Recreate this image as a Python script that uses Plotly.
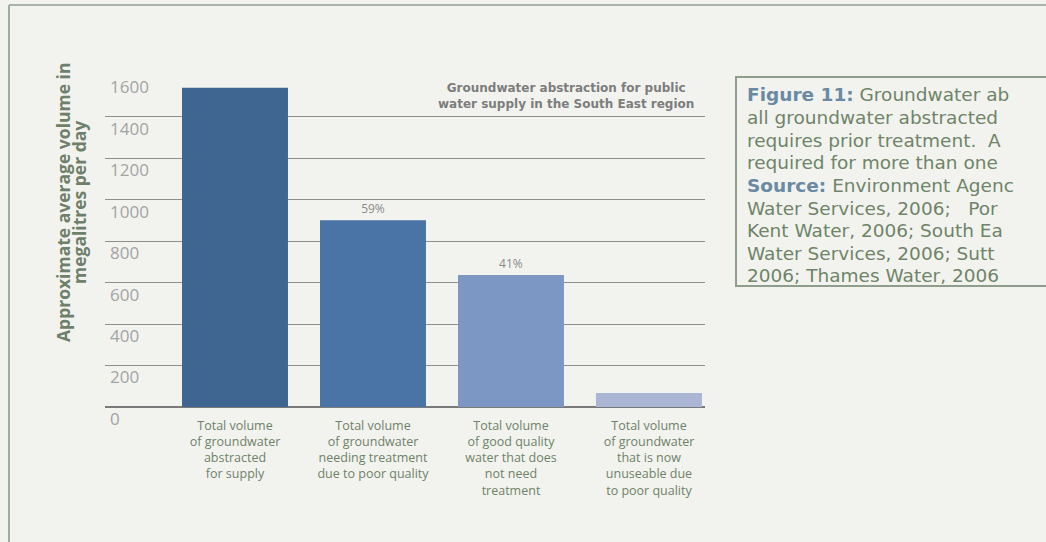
import plotly.graph_objects as go

# ---- data ----
categories = [
    "Total volume<br>of groundwater<br>abstracted<br>for supply",
    "Total volume<br>of groundwater<br>needing treatment<br>due to poor quality",
    "Total volume<br>of good quality<br>water that does<br>not need<br>treatment",
    "Total volume<br>of groundwater<br>that is now<br>unuseable due<br>to poor quality",
]
values = [1540, 900, 636, 68]
bar_labels = ["", "59%", "41%", ""]
bar_colors = ["#3e6690", "#4a74a6", "#7d97c5", "#aab6d4"]
y_ticks = [0, 200, 400, 600, 800, 1000, 1200, 1400, 1600]
y_ticktext = [str(v) for v in y_ticks]

chart_title = "Groundwater abstraction for public<br>water supply in the South East region"
y_title_lines = ["Approximate average volume in", "megalitres per day"]
caption_lines = [
    "<b><span style='color:#6a89a3'>Figure 11:</span></b> Groundwater ab",
    "all groundwater abstracted",
    "requires prior treatment.  A",
    "required for more than one",
    "<b><span style='color:#6a89a3'>Source:</span></b> Environment Agenc",
    "Water Services, 2006;   Por",
    "Kent Water, 2006; South Ea",
    "Water Services, 2006; Sutt",
    "2006; Thames Water, 2006",
]

W, H = 1046, 542
L, R, T, B = 105, 705, 75, 407  # plot area in pixels


def px(xp):
    return (xp - L) / (R - L)


def py(yp):
    return (B - yp) / (B - T)


fig = go.Figure()
fig.add_trace(go.Bar(
    x=categories,
    y=values,
    width=0.768,
    marker=dict(color=bar_colors, line=dict(width=0)),
    text=bar_labels,
    textposition="outside",
    textfont=dict(family="Open Sans", size=12, color="#8a8a8a"),
    cliponaxis=False,
    hoverinfo="skip",
))

fig.update_layout(
    width=W, height=H,
    margin=dict(l=L, r=W - R, t=T, b=H - B, autoexpand=False),
    paper_bgcolor="#f2f3ef",
    plot_bgcolor="rgba(0,0,0,0)",
    showlegend=False,
    font=dict(family="Open Sans"),
)

fig.update_xaxes(
    type="category",
    range=[-0.942, 3.406],
    automargin=False,
    showgrid=False,
    showline=False,
    zeroline=False,
    ticks="",
    ticklabelstandoff=9,
    tickfont=dict(family="Open Sans", size=12.5, color="#6f8268"),
)

fig.update_yaxes(
    range=[0, 1601],
    automargin=False,
    tickvals=y_ticks,
    ticktext=y_ticktext,
    showgrid=True,
    gridcolor="#8e8e8e",
    gridwidth=1,
    zeroline=True,
    zerolinecolor="#7a7a7a",
    zerolinewidth=1.5,
    showline=False,
    ticks="",
    ticklabelposition="inside",
    ticklabelshift=12,
    ticklabelstandoff=2,
    ticklabeloverflow="allow",
    tickfont=dict(family="Open Sans", size=17, color="#a3a3a3"),
)

annotations = [
    dict(text=chart_title, xref="paper", yref="paper", x=px(566), y=py(96),
         xanchor="center", yanchor="middle", showarrow=False, align="center",
         font=dict(family="DejaVu Sans", size=12, color="#7d7d7d", weight="bold")),
    dict(text=y_title_lines[0], xref="paper", yref="paper", x=px(63), y=py(203),
         xanchor="center", yanchor="middle", showarrow=False, align="center",
         textangle=-90,
         font=dict(family="Open Sans", size=17.5, color="#6e7f6a", weight="bold")),
    dict(text=y_title_lines[1], xref="paper", yref="paper", x=px(79), y=py(203),
         xanchor="center", yanchor="middle", showarrow=False, align="center",
         textangle=-90,
         font=dict(family="Open Sans", size=17.5, color="#6e7f6a", weight="bold")),
]
for i, line in enumerate(caption_lines):
    annotations.append(dict(
        text=line, xref="paper", yref="paper",
        x=px(745), y=py(95 + 22.6 * i), xanchor="left", yanchor="middle",
        showarrow=False, align="left",
        font=dict(family="DejaVu Sans", size=18.5, color="#6f8468")))
fig.update_layout(annotations=annotations)

shapes = [
    # caption box
    dict(type="rect", xref="paper", yref="paper",
         x0=px(736), x1=px(1060), y0=py(286), y1=py(77),
         line=dict(color="#8f9e8c", width=2), fillcolor="rgba(0,0,0,0)", layer="below"),
    # outer frame (left and top edges)
    dict(type="line", xref="paper", yref="paper",
         x0=px(9), x1=px(9), y0=py(5), y1=py(560),
         line=dict(color="#9fae9c", width=2)),
    dict(type="line", xref="paper", yref="paper",
         x0=px(9), x1=px(1060), y0=py(5), y1=py(5),
         line=dict(color="#a9b3ab", width=2)),
]
fig.update_layout(shapes=shapes)

fig.write_html(
    "out.html",
    config={"displayModeBar": False},
    post_script="document.body.style.margin='0';document.body.style.overflow='hidden';",
)
